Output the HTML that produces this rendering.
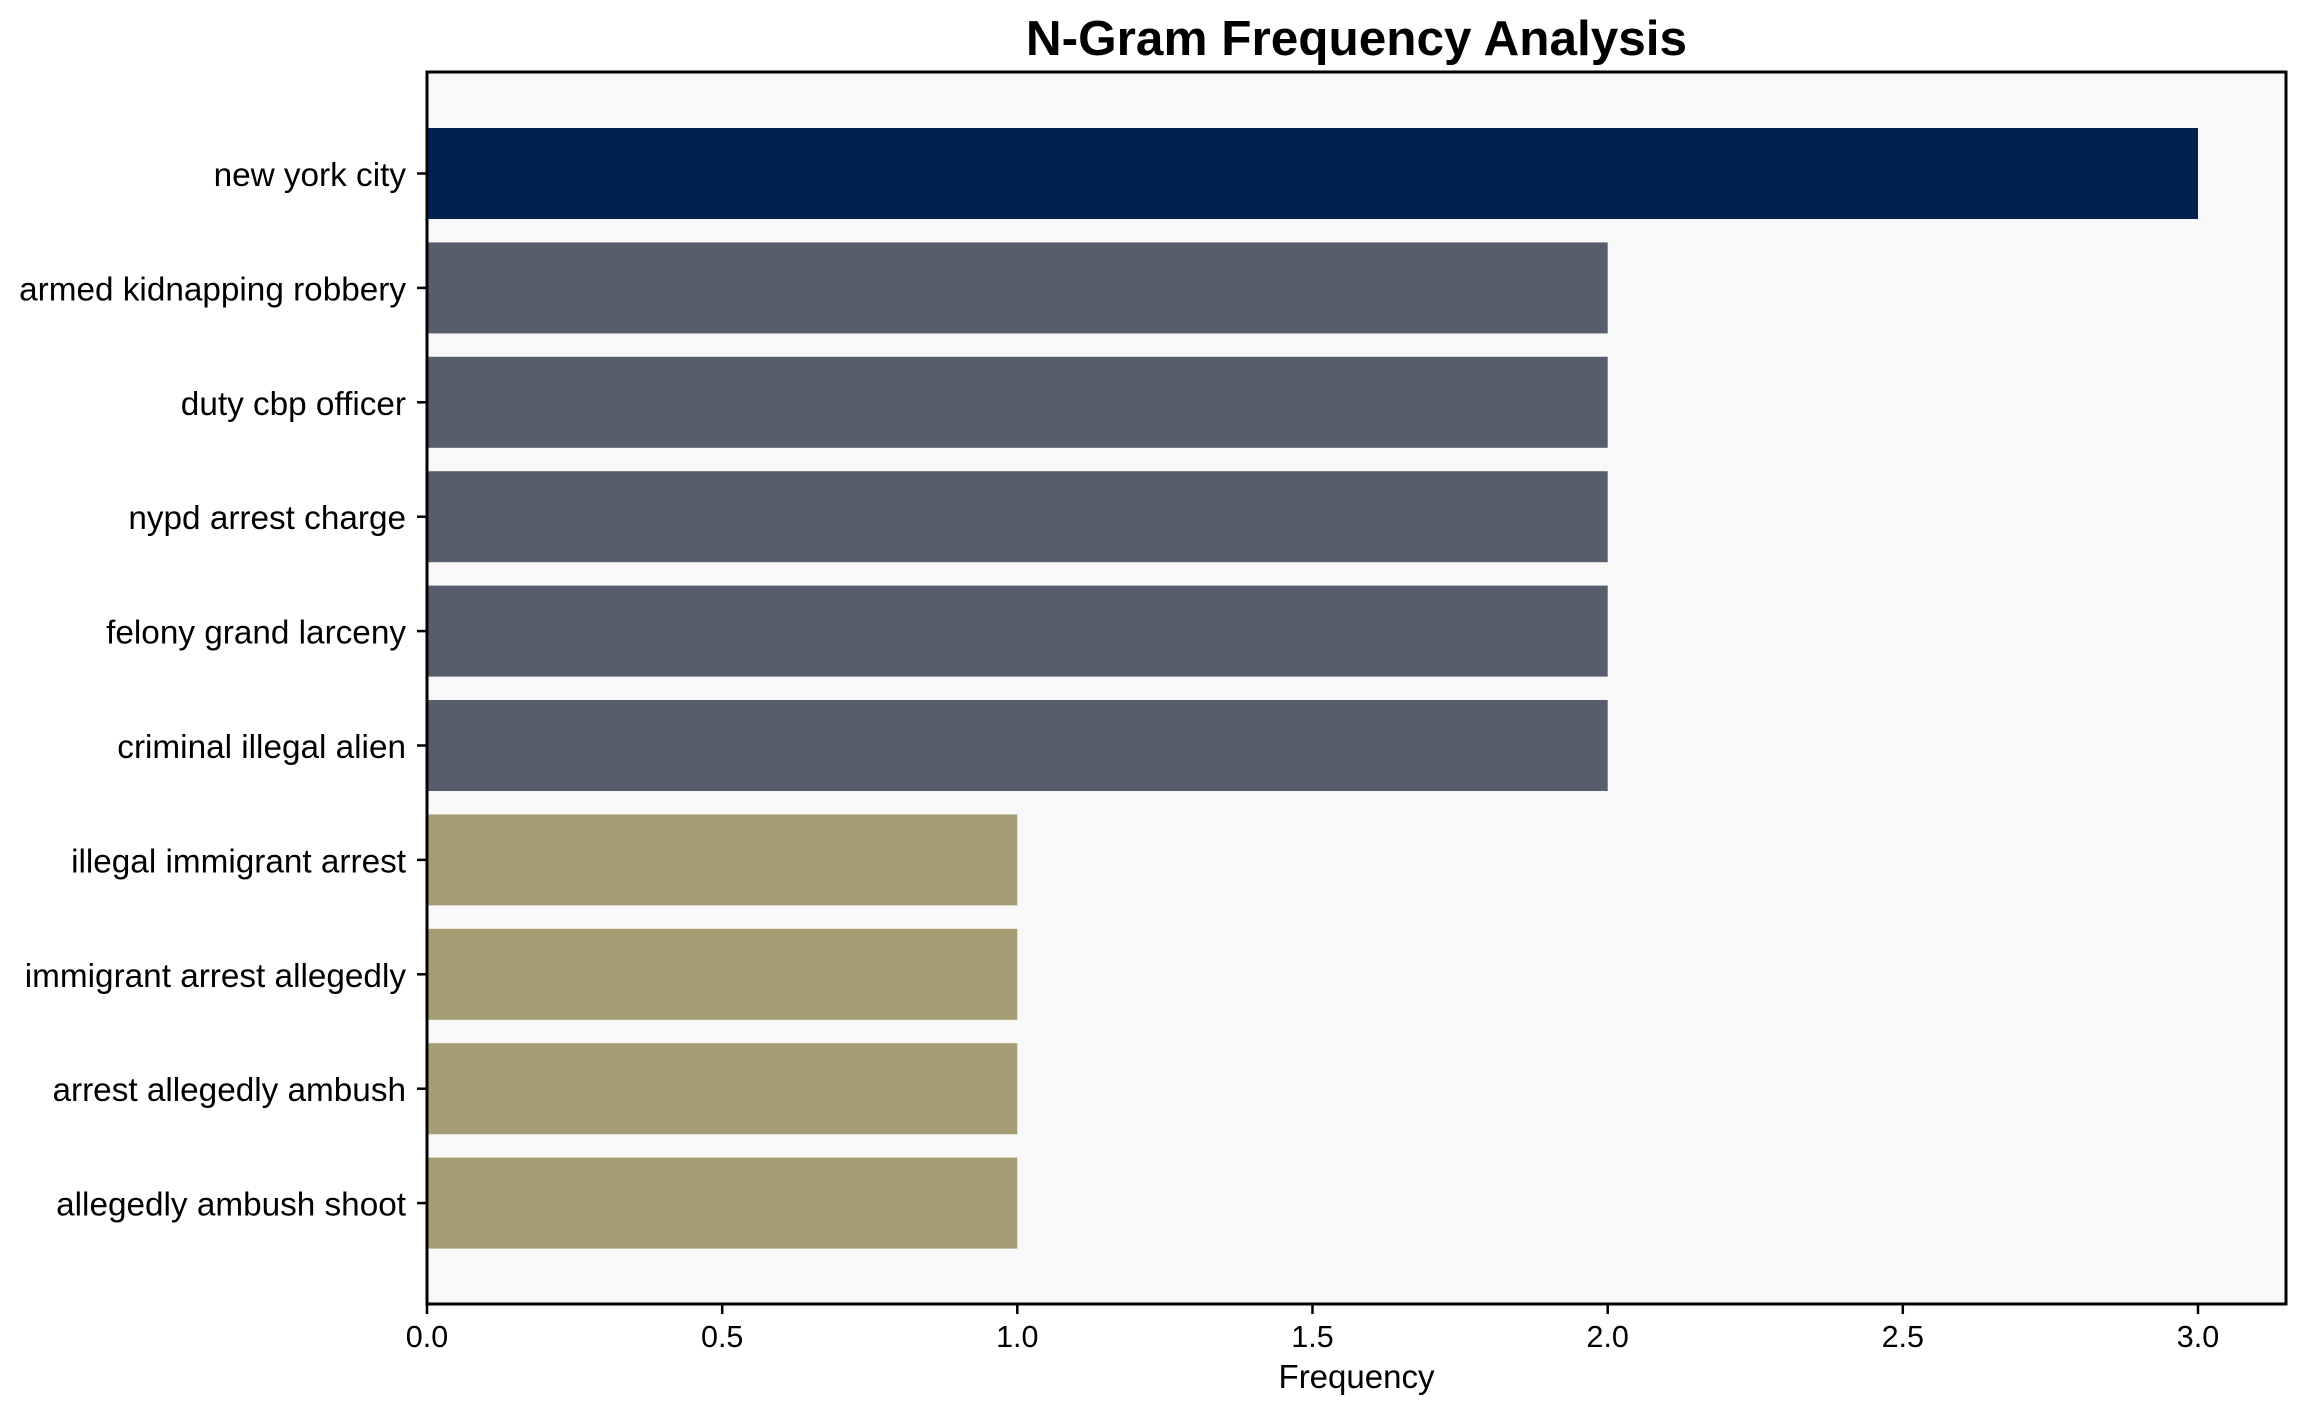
<!DOCTYPE html>
<html><head><meta charset="utf-8"><style>html,body{margin:0;padding:0;background:#fff}</style></head>
<body>
<svg width="2306" height="1414" xmlns="http://www.w3.org/2000/svg" font-family="Liberation Sans, Arial, sans-serif">
<rect x="0" y="0" width="2306" height="1414" fill="#fff"/>
<rect x="427" y="72" width="1859" height="1232" fill="#f8f8f8"/>
<g>
<rect x="427" y="128" width="1771" height="91" fill="#00224e"/>
<rect x="427" y="242.4" width="1180.7" height="91" fill="#575d6d"/>
<rect x="427" y="356.8" width="1180.7" height="91" fill="#575d6d"/>
<rect x="427" y="471.2" width="1180.7" height="91" fill="#575d6d"/>
<rect x="427" y="585.6" width="1180.7" height="91" fill="#575d6d"/>
<rect x="427" y="700" width="1180.7" height="91" fill="#575d6d"/>
<rect x="427" y="814.4" width="590.3" height="91" fill="#a69d75"/>
<rect x="427" y="928.8" width="590.3" height="91" fill="#a69d75"/>
<rect x="427" y="1043.2" width="590.3" height="91" fill="#a69d75"/>
<rect x="427" y="1157.6" width="590.3" height="91" fill="#a69d75"/>
</g>
<rect x="427" y="72" width="1859" height="1232" fill="none" stroke="#000" stroke-width="3"/>
<g stroke="#000" stroke-width="2.5">
<line x1="417" x2="427" y1="173.5" y2="173.5"/><line x1="417" x2="427" y1="287.9" y2="287.9"/>
<line x1="417" x2="427" y1="402.3" y2="402.3"/><line x1="417" x2="427" y1="516.7" y2="516.7"/>
<line x1="417" x2="427" y1="631.1" y2="631.1"/><line x1="417" x2="427" y1="745.5" y2="745.5"/>
<line x1="417" x2="427" y1="859.9" y2="859.9"/><line x1="417" x2="427" y1="974.3" y2="974.3"/>
<line x1="417" x2="427" y1="1088.7" y2="1088.7"/><line x1="417" x2="427" y1="1203.1" y2="1203.1"/>
<line y1="1304" y2="1314" x1="427" x2="427"/><line y1="1304" y2="1314" x1="722.2" x2="722.2"/>
<line y1="1304" y2="1314" x1="1017.3" x2="1017.3"/><line y1="1304" y2="1314" x1="1312.5" x2="1312.5"/>
<line y1="1304" y2="1314" x1="1607.7" x2="1607.7"/><line y1="1304" y2="1314" x1="1902.8" x2="1902.8"/>
<line y1="1304" y2="1314" x1="2198" x2="2198"/>
</g>
<g font-size="33.3" text-anchor="end" dominant-baseline="central" fill="#000">
<text x="406" y="175.5">new york city</text>
<text x="406" y="289.9">armed kidnapping robbery</text>
<text x="406" y="404.3">duty cbp officer</text>
<text x="406" y="518.7">nypd arrest charge</text>
<text x="406" y="633.1">felony grand larceny</text>
<text x="406" y="747.5">criminal illegal alien</text>
<text x="406" y="861.9">illegal immigrant arrest</text>
<text x="406" y="976.3">immigrant arrest allegedly</text>
<text x="406" y="1090.7">arrest allegedly ambush</text>
<text x="406" y="1205.1">allegedly ambush shoot</text>
</g>
<g font-size="30.5" text-anchor="middle" fill="#000">
<text x="427" y="1347">0.0</text><text x="722.2" y="1347">0.5</text>
<text x="1017.3" y="1347">1.0</text><text x="1312.5" y="1347">1.5</text>
<text x="1607.7" y="1347">2.0</text><text x="1902.8" y="1347">2.5</text>
<text x="2198" y="1347">3.0</text>
</g>
<text x="1356.5" y="1388" font-size="33" text-anchor="middle">Frequency</text>
<text x="1356.5" y="55" font-size="49.5" font-weight="bold" text-anchor="middle">N-Gram Frequency Analysis</text>
</svg>
</body></html>
